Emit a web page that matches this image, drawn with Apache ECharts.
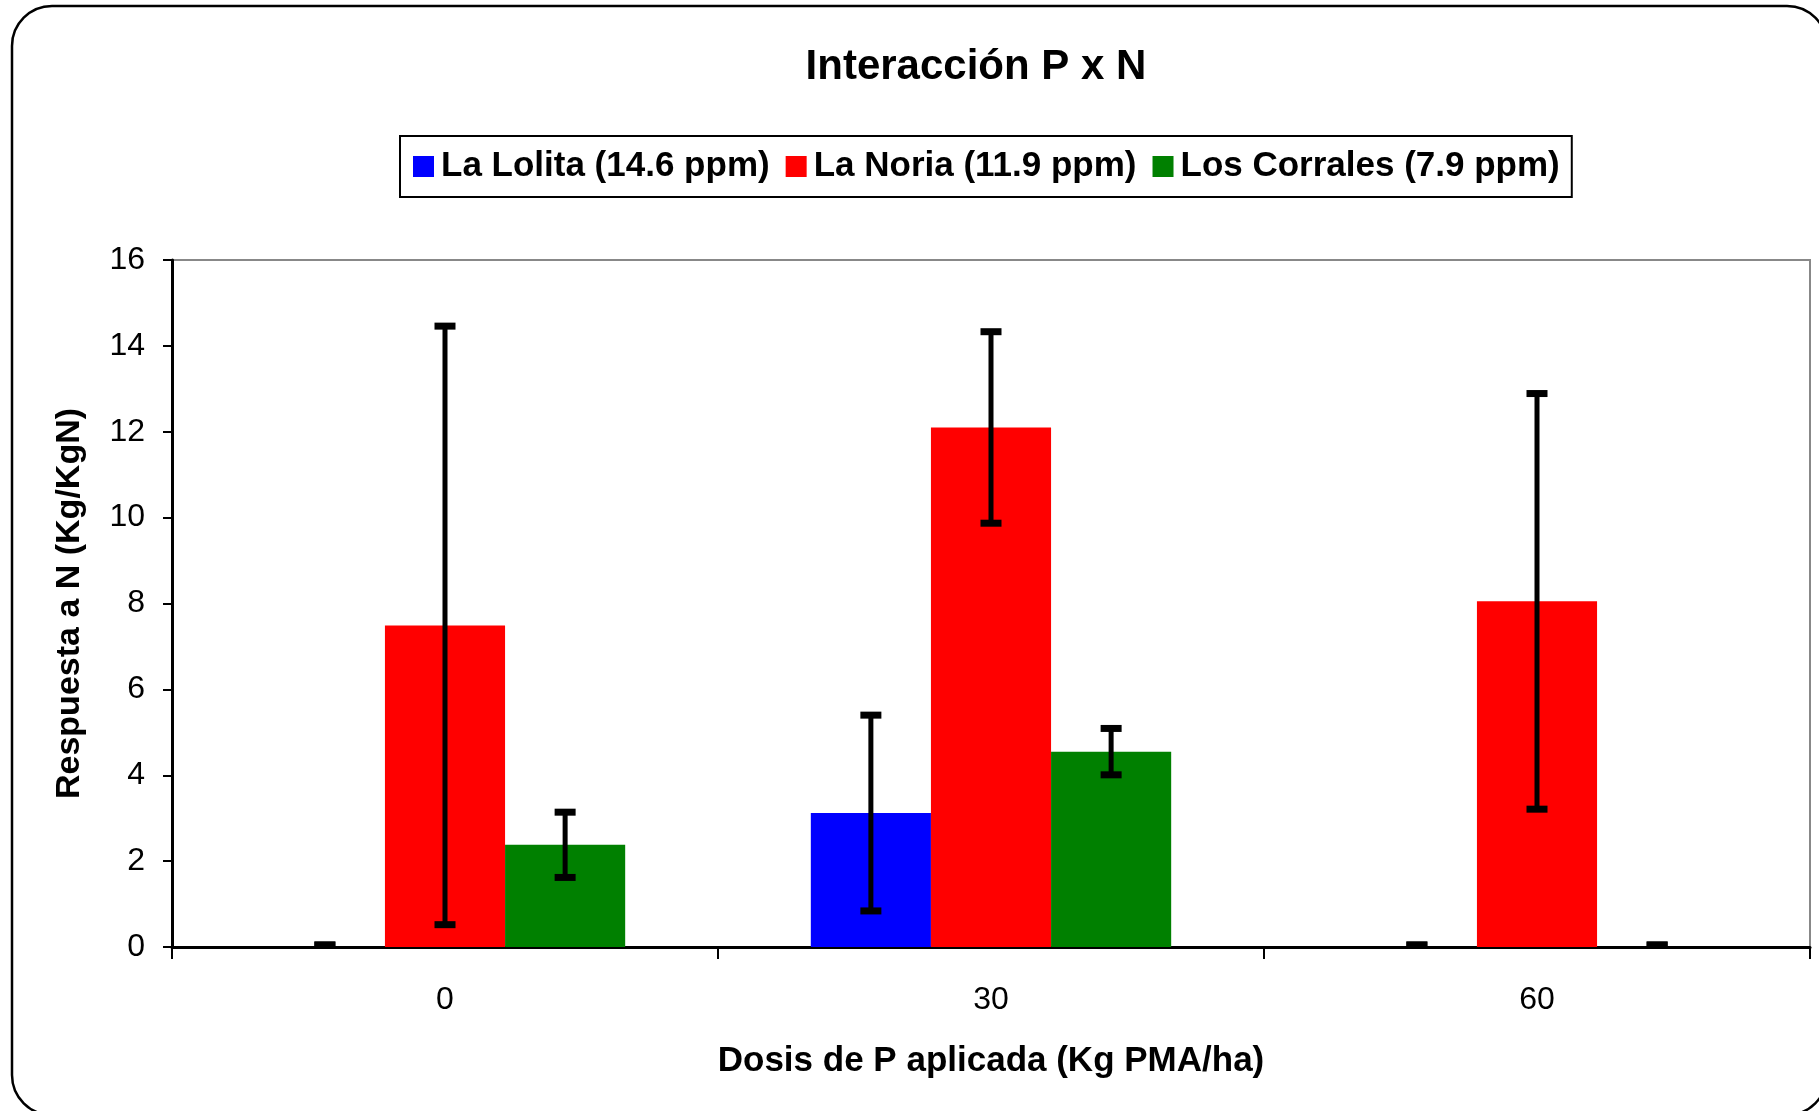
<!DOCTYPE html>
<html>
<head>
<meta charset="utf-8">
<script src="https://cdn.jsdelivr.net/npm/echarts@6/dist/echarts.min.js"></script>
<style>
html,body{margin:0;padding:0;background:#fff;}
#chart{width:1819px;height:1111px;}
</style>
</head>
<body>
<div id="chart"></div>
<script>
const categories = ['0', '30', '60'];
const seriesNames = ['La Lolita (14.6 ppm)', 'La Noria (11.9 ppm)', 'Los Corrales (7.9 ppm)'];
const lolita = [0, 3.12, 0];
const lolitaErr = [0, 2.28, 0];
const noria = [7.49, 12.1, 8.05];
const noriaErr = [6.97, 2.23, 4.84];
const corrales = [2.38, 4.55, 0];
const corralesErr = [0.76, 0.54, 0];
const yTicks = [0, 2, 4, 6, 8, 10, 12, 14, 16];

const colors = ['#0000FF', '#FF0000', '#008000'];
const FONT = 'Liberation Sans, Arial, sans-serif';
const catGap = 0.34;

const values = [lolita, noria, corrales];
const errors = [lolitaErr, noriaErr, corralesErr];

function errSeries(idx) {
  const vals = values[idx], errs = errors[idx];
  return {
    type: 'custom',
    silent: true,
    z: 10,
    encode: { x: 0, y: [1, 2] },
    data: vals.map((v, i) => [i, v - errs[i], v + errs[i]]),
    renderItem: function (params, api) {
      const c = api.value(0);
      const lo = api.value(1), hi = api.value(2);
      const band = api.size([1, 0])[0];
      const bw = band * (1 - catGap) / 3;
      const x = api.coord([c, 0])[0] + (idx - 1) * bw;
      const yLo = api.coord([c, lo])[1];
      const yHi = api.coord([c, hi])[1];
      const half = 10.5;
      const st = { stroke: '#000', lineWidth: 5 };
      const cap = { stroke: '#000', lineWidth: 7 };
      const zero = lo === hi;
      return {
        type: 'group',
        children: [
          { type: 'line', shape: { x1: x, y1: yHi, x2: x, y2: yLo }, style: st },
          { type: 'line', shape: { x1: x - half, y1: yHi - (zero ? 2 : 0), x2: x + half, y2: yHi - (zero ? 2 : 0) }, style: cap },
          { type: 'line', shape: { x1: x - half, y1: yLo - (zero ? 2 : 0), x2: x + half, y2: yLo - (zero ? 2 : 0) }, style: cap }
        ]
      };
    }
  };
}

const chart = echarts.init(document.getElementById('chart'), null, { renderer: 'canvas' });
const option = {
  backgroundColor: '#fff',
  animation: false,
  title: {
    text: 'Interacción P x N',
    left: 971,
    textAlign: 'center',
    top: 41,
    textStyle: { fontFamily: FONT, fontSize: 42, fontWeight: 'bold', color: '#000' }
  },
  legend: {
    data: seriesNames,
    left: 400,
    top: 136,
    orient: 'horizontal',
    padding: [13, 12, 13, 13],
    borderColor: '#000',
    borderWidth: 2,
    itemWidth: 21,
    itemHeight: 21,
    itemGap: 16,
    icon: 'rect',
    textStyle: { fontFamily: FONT, fontSize: 35, fontWeight: 'bold', color: '#000', padding: [0, 0, 0, 2], lineHeight: 35 }
  },
  grid: {
    left: 172, right: 9, top: 260, bottom: 164,
    show: true, borderColor: '#888', borderWidth: 2, backgroundColor: '#fff'
  },
  xAxis: {
    type: 'category',
    data: categories,
    name: 'Dosis de P aplicada (Kg PMA/ha)',
    nameLocation: 'middle',
    nameGap: 97,
    nameTextStyle: { fontFamily: FONT, fontSize: 35, fontWeight: 'bold', color: '#000' },
    axisLine: { lineStyle: { color: '#000', width: 3 } },
    axisTick: { show: true, length: 12, lineStyle: { color: '#000', width: 2 } },
    axisLabel: { fontFamily: FONT, fontSize: 32, color: '#000', margin: 37 },
    splitLine: { show: false }
  },
  yAxis: {
    type: 'value',
    min: 0, max: 16, interval: 2,
    name: 'Respuesta a N (Kg/KgN)',
    nameLocation: 'middle',
    nameGap: 85,
    nameRotate: 90,
    nameTextStyle: { fontFamily: FONT, fontSize: 34, fontWeight: 'bold', color: '#000' },
    axisLine: { show: true, lineStyle: { color: '#000', width: 3 } },
    axisTick: { show: true, length: 9, lineStyle: { color: '#000', width: 2 } },
    axisLabel: { fontFamily: FONT, fontSize: 32, color: '#000', margin: 27,
      formatter: function (v) { return yTicks.indexOf(v) >= 0 ? String(v) : ''; } },
    splitLine: { show: false }
  },
  graphic: [{
    type: 'rect',
    silent: true,
    z: -1,
    shape: { x: 12, y: 6, width: 1815, height: 1109, r: 40 },
    style: { fill: 'none', stroke: '#000', lineWidth: 2.5 }
  }],
  series: [
    { name: seriesNames[0], type: 'bar', data: lolita, itemStyle: { color: colors[0] }, barGap: '0%', barCategoryGap: '34%' },
    { name: seriesNames[1], type: 'bar', data: noria, itemStyle: { color: colors[1] }, barGap: '0%', barCategoryGap: '34%' },
    { name: seriesNames[2], type: 'bar', data: corrales, itemStyle: { color: colors[2] }, barGap: '0%', barCategoryGap: '34%' },
    errSeries(0), errSeries(1), errSeries(2)
  ]
};
chart.setOption(option);
</script>
</body>
</html>
